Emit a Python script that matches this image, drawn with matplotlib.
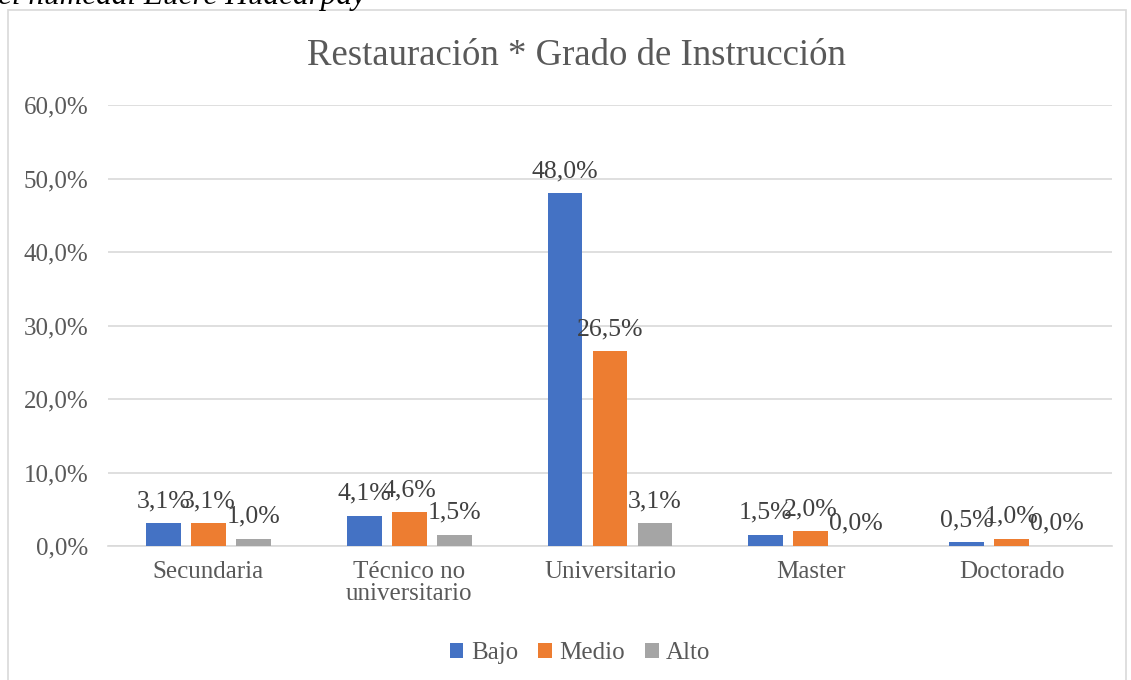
import numpy as np
import matplotlib.pyplot as plt
from matplotlib.patches import Rectangle

plt.rcParams["font.family"] = ["Liberation Serif", "DejaVu Serif"]

categorias = ["Secundaria", "Técnico no\nuniversitario", "Universitario", "Master", "Doctorado"]
niveles = ["Bajo", "Medio", "Alto"]
bajo = [3.1, 4.1, 48.0, 1.5, 0.5]
medio = [3.1, 4.6, 26.5, 2.0, 1.0]
alto = [1.0, 1.5, 3.1, 0.0, 0.0]
colores = ["#4472C4", "#ED7D31", "#A5A5A5"]
ticks_y = [0, 10, 20, 30, 40, 50, 60]

texto_gris = "#595959"

fig = plt.figure(figsize=(11.31, 6.8), dpi=100)

# marco del grafico
fig.patches.append(Rectangle((8 / 1131, -0.05), 1118 / 1131, 1.05 - 10 / 680,
                             transform=fig.transFigure, fill=False,
                             edgecolor="#d9d9d9", linewidth=1.2))

# texto cortado de la pagina (en la imagen original sale recortado)
fig.text(-0.002, 1 - 4 / 680, "el humedal Eucre Huacarpay", fontsize=22.5,
         style="italic", color="black", ha="left", va="baseline")

ax = fig.add_axes([108 / 1131, 1 - 546 / 680, 1004 / 1131, 441 / 680])

x = np.arange(len(categorias))
ancho = 0.174
paso = 0.224

for i, (serie, color, nombre) in enumerate(zip([bajo, medio, alto], colores, niveles)):
    pos = x + (i - 1) * paso
    ax.bar(pos, serie, width=ancho, color=color, label=nombre, zorder=3)
    for xp, v in zip(pos, serie):
        ax.annotate(f"{v:.1f}%".replace(".", ","), (xp, v), xytext=(0, 16),
                    textcoords="offset points", ha="center", va="center",
                    fontsize=18.5, color="#404040", zorder=4)

ax.set_xlim(-0.5, len(categorias) - 0.5)
ax.set_ylim(0, 60)
ax.set_yticks(ticks_y)
ax.set_yticklabels([f"{t:.1f}%".replace(".", ",") for t in ticks_y])
ax.set_xticks(x)
ax.set_xticklabels(categorias, linespacing=1.0)
ax.tick_params(axis="both", length=0, labelsize=18, labelcolor=texto_gris)
ax.tick_params(axis="x", pad=11)
ax.tick_params(axis="y", pad=14)

ax.grid(axis="y", color="#d9d9d9", linewidth=1.2, zorder=0)
for lado in ["top", "right", "left"]:
    ax.spines[lado].set_visible(False)
ax.spines["bottom"].set_color("#d9d9d9")
ax.spines["bottom"].set_linewidth(1.2)

fig.text(576 / 1131, 1 - 56 / 680, "Restauración * Grado de Instrucción",
         fontsize=26.5, color=texto_gris, ha="center", va="center")

fig.legend(loc="center", bbox_to_anchor=(580 / 1131, 1 - 653 / 680), ncol=3,
           frameon=False, fontsize=18, handlelength=0.55, handleheight=0.55,
           handletextpad=0.3, columnspacing=0.8, labelcolor=texto_gris)

fig.savefig("out.png", dpi=100)
